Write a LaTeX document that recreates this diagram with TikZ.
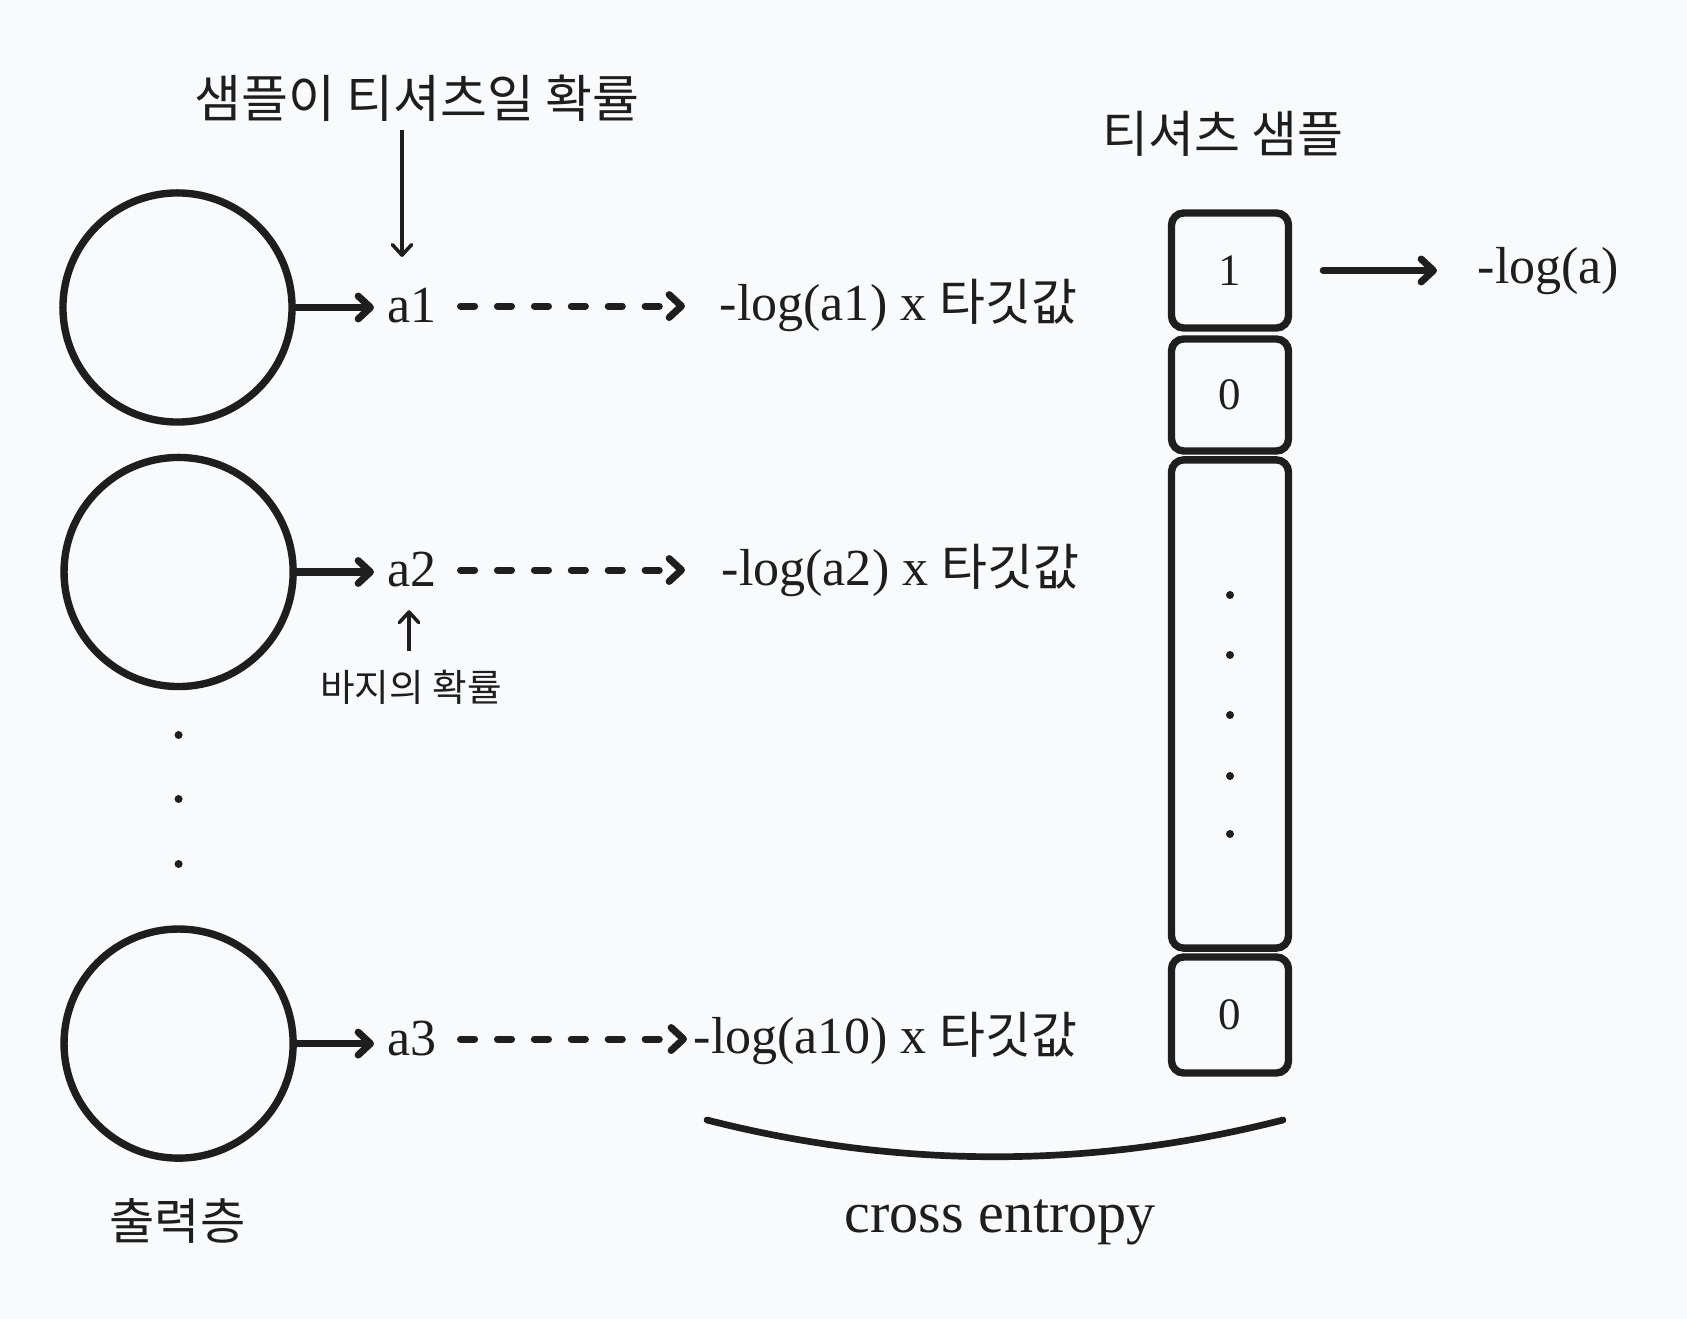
\documentclass[tikz,border=0pt]{standalone}
\usepackage{fontspec}
\setmainfont{Liberation Serif}
\newfontfamily\kr{Noto Sans CJK KR}
\usetikzlibrary{arrows.meta}
\definecolor{bgc}{HTML}{F9FAFC}
\definecolor{ink}{HTML}{1E1E1E}
\newcommand\mylat{\fontsize{14.8}{17}\selectfont}
\newcommand\mykr{\kr\fontsize{14.2}{16}\selectfont}
\begin{document}
\begin{tikzpicture}[x=0.01cm,y=-0.01cm,
  every node/.style={text=ink},
  neuron/.style={circle, draw=ink, line width=2.1pt, minimum size=2.29cm, inner sep=0},
  cell/.style={draw=ink, line width=2.1pt, rounded corners=3.5pt, minimum width=1.17cm, inner sep=0, font=\fontsize{12.8}{14}\selectfont},
  txt/.style={inner sep=0},
  thickarrow/.style={draw=ink, line width=2pt, line cap=round, -{Straight Barb[length=3.5pt,width=6.5pt,round]}},
  dasharrow/.style={thickarrow, dash pattern=on 4pt off 6.5pt},
  thinarrow/.style={draw=ink, line width=1pt, -{Straight Barb[length=3pt,width=5.5pt,round]}},
  dot/.style={circle, fill=ink, inner sep=0, minimum size=0.08cm},
]
\fill[bgc] (0,0) rectangle (1687,1319);
\useasboundingbox (0,0) rectangle (1687,1319);

% neurons
\node[neuron] (c1) at (177.5,307.5) {};
\node[neuron] (c2) at (178.6,572) {};
\node[neuron] (c3) at (178.6,1043.6) {};
\node[dot] (d1) at (178.6,735) {};
\node[dot] (d2) at (178.6,799) {};
\node[dot] (d3) at (178.6,864) {};
\node[txt] (out) at (177.5,1221) {\kr\fontsize{14}{16}\selectfont 출력층};

% outputs
\node[txt, anchor=base west] (a1) at (387,323) {\mylat a1};
\node[txt, anchor=base west] (a2) at (387,587) {\mylat a2};
\node[txt, anchor=base west] (a3) at (387,1056) {\mylat a3};

\node[txt, anchor=base west] (r1) at (719,321) {\mylat -log(a1) x {\mykr 타깃값}};
\node[txt, anchor=base west] (r2) at (721,586) {\mylat -log(a2) x {\mykr 타깃값}};
\node[txt, anchor=base west] (r3) at (693,1054) {\mylat -log(a10) x {\mykr 타깃값}};

\draw[thickarrow, shorten >=0.13cm] (c1.east) -- (c1.east -| a1.west);
\draw[thickarrow, shorten >=0.13cm] (c2.east) -- (c2.east -| a2.west);
\draw[thickarrow, shorten >=0.13cm] (c3.east) -- (c3.east -| a3.west);

\draw[dasharrow, shorten <=0.23cm, shorten >=0.34cm] (a1.east) -- (a1.east -| r1.west);
\draw[dasharrow, shorten <=0.23cm, shorten >=0.36cm] (a2.east) -- (a2.east -| r2.west);
\draw[dasharrow, shorten <=0.23cm, shorten >=0.06cm] (a3.east) -- (a3.east -| r3.west);

% annotations
\node[txt] (t1) at (417,98) {\kr\fontsize{14.5}{17}\selectfont 샘플이 티셔츠일 확률};
\draw[thinarrow, shorten <=0.08cm, shorten >=0.31cm] ([xshift=-0.15cm]t1.south) -- ([xshift=-0.15cm]t1.south |- a1.north);

\node[txt] (p) at (411,687) {\kr\fontsize{10.7}{12}\selectfont 바지의 확률};
\draw[thinarrow, shorten <=0.18cm, shorten >=0.22cm] ([xshift=-0.02cm]p.north) -- ([xshift=-0.02cm]p.north |- a2.south);

% target vector
\node[txt] (t2) at (1223,134) {\kr\fontsize{14.2}{16}\selectfont 티셔츠 샘플};
\node[cell, minimum height=1.15cm] (b1) at (1230,270.5) {1};
\node[cell, minimum height=1.12cm] (b2) at (1230,395) {0};
\node[cell, minimum height=4.88cm] (b3) at (1230,704) {};
\node[cell, minimum height=1.16cm] (b4) at (1230,1015) {0};
\node[dot] (e1) at (1230,595) {};
\node[dot] (e2) at (1230,655) {};
\node[dot] (e3) at (1230,715) {};
\node[dot] (e4) at (1230,776) {};
\node[dot] (e5) at (1230,834) {};

\node[txt, anchor=base west] (la) at (1477,284) {\mylat -log(a)};
\draw[thickarrow, shorten <=0.31cm, shorten >=0.40cm] (b1.east) -- (b1.east -| la.west);

% cross entropy arc
\draw[draw=ink, line width=1.9pt, line cap=round] (707,1120) .. controls (899,1169) and (1091,1169) .. (1283,1120);
\node[txt, anchor=base] (ce) at (1000,1232) {\fontsize{16.5}{19}\selectfont cross entropy};
\end{tikzpicture}
\end{document}
